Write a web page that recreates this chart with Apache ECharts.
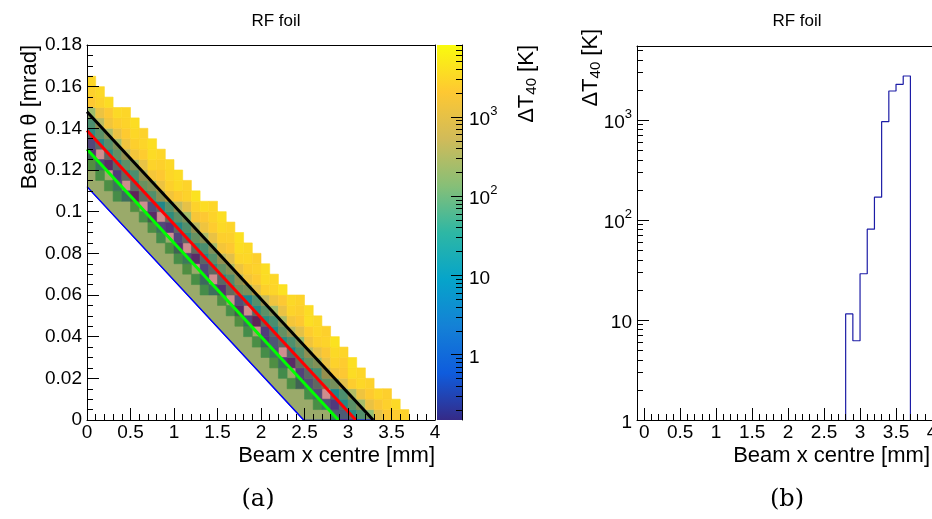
<!DOCTYPE html>
<html><head><meta charset="utf-8">
<script src="https://cdn.jsdelivr.net/npm/echarts@6/dist/echarts.min.js"></script>
<style>html,body{margin:0;padding:0;background:#fff;}#c{width:932px;height:519px;}</style>
</head><body><div id="c"></div>
<script>
// ---------- data ----------
const xBin = 0.1;          // mm per column
const yBin = 0.005;        // mrad per row
// first column index of every theta row (row r covers r*yBin .. (r+1)*yBin)
const rowStart = [27,26,25,23,22,21,20,19,18,17,16,15,13,12,11,10,9,8,7,6,5,3,2,1,0,0,0,0,0,0,0,0,0];
// Delta T40 [K] of each cell of the row, left to right (0 = empty cell)
const rowValues = [
  [0, 11, 6.2, 29, 81, 169, 962, 1950, 2275, 2754],
  [35, 4.1, 0.6, 24, 95, 240, 1100, 1850, 2600, 3300],
  [28, 2.5, 0, 18, 70, 310, 1300, 2200, 2900, 2500],
  [40, 0.4, 3.1, 33, 110, 190, 900, 2400, 3100, 2700],
  [22, 0, 1.2, 26, 60, 420, 1500, 2000, 3500, 3000],
  [45, 0.9, 0.3, 41, 130, 260, 1200, 2700, 2300, 3800],
  [30, 2.2, 0, 19, 88, 350, 1050, 1900, 3300, 2900],
  [38, 0.5, 4.5, 30, 75, 200, 1400, 2500, 2800, 4200],
  [25, 0, 0.8, 22, 120, 380, 950, 2300, 3000, 2600],
  [50, 1.5, 0.2, 36, 65, 280, 1600, 2100, 3700, 3200],
  [33, 0.3, 0, 27, 100, 230, 1150, 2800, 2500, 3500],
  [42, 0, 2.8, 17, 85, 450, 1350, 2000, 3200, 2800],
  [27, 1.1, 0.4, 38, 140, 210, 1000, 2600, 2900, 4000],
  [36, 0.6, 0, 24, 72, 330, 1450, 2200, 3400, 3100],
  [48, 0, 1.8, 31, 115, 270, 1250, 2400, 2700, 3600],
  [31, 2.9, 0.3, 21, 90, 400, 900, 2900, 3100, 2500],
  [44, 0.4, 0, 35, 68, 250, 1550, 2100, 3600, 3300],
  [26, 0, 1.4, 28, 125, 300, 1100, 2500, 2600, 3900],
  [39, 1.7, 0.5, 23, 80, 360, 1300, 2300, 3300, 2900],
  [34, 0.3, 0, 37, 105, 220, 1700, 2000, 2800, 3700],
  [47, 0, 2.4, 20, 92, 410, 1000, 2700, 3500, 3000],
  [29, 0.8, 0.2, 32, 78, 290, 1400, 2200, 2700, 4100],
  [41, 2.0, 0, 26, 135, 240, 1200, 2600, 3300, 2800],
  [37, 0, 0.7, 34, 70, 340, 1600, 2100, 3000, 3500],
  [52, 1.3, 0.3, 22, 98, 260, 1050, 2800, 2600, 3200],
  [0.4, 0, 29, 112, 390, 1500, 2300, 3400, 3000],
  [1.6, 25, 84, 230, 1300, 2500, 2900, 3700],
  [31, 95, 280, 1100, 2200, 3100, 2700],
  [70, 350, 1450, 2400, 2800, 3600],
  [210, 1200, 2000, 3300, 3000],
  [2100, 2700, 3500],
  [2600, 3200],
  [3000]
];
// beam limit lines (x [mm], theta [mrad])
const blackLine = [[0, 0.148], [3.29, 0]];
const redLine   = [[0, 0.139], [3.09, 0]];
const greenLine = [[0, 0.130], [2.89, 0]];
const blueLine  = [[0, 0.112], [2.49, 0]];
// projection (theta = 0 row)
const histEdges  = [2.8, 2.9, 3.0, 3.1, 3.2, 3.3, 3.4, 3.5, 3.6, 3.7];
const histValues = [11.5, 6.2, 29, 81, 169, 962, 1950, 2275, 2754];
// axes
const xTickValues = [0, 0.5, 1, 1.5, 2, 2.5, 3, 3.5, 4];
const xMinorValues = [];
for (let i = 0; i <= 40; i++) if (i % 5) xMinorValues.push(i / 10);
const decades = [0, 1, 2, 3];                 // log10 of 1, 10, 100, 1000
const cbarMin = 0.15, cbarMax = 8090;
const histYMin = 1, histYMax = 5495;
const birdColors = ['#352a87','#0f5cdd','#1481d6','#06a4ca','#2eb7a4','#87bf77','#d1bb59','#fec832','#f9fb0e'];

// ---------- build ----------
const lg = Math.log10;
const cells = [];
rowValues.forEach((vals, r) => vals.forEach((v, k) => {
  if (v > 0) cells.push([(rowStart[r] + k) * xBin, r * yBin, v, lg(v)]);
}));
function minorLog(lo, hi) {
  const out = [];
  for (let d = -1; d <= 4; d++) for (let m = 2; m <= 9; m++) {
    const v = m * Math.pow(10, d);
    if (v > lo && v < hi) out.push(lg(v));
  }
  return out;
}
const histPath = [[histEdges[0], histYMin]];
histValues.forEach((v, i) => { histPath.push([histEdges[i], v]); histPath.push([histEdges[i + 1], v]); });
histPath.push([histEdges[histEdges.length - 1], histYMin]);

const polygons = [
  {line: blackLine, fill: 'rgba(40,40,40,0.30)'},
  {line: redLine,   fill: 'rgba(255,0,0,0.25)'},
  {line: greenLine, fill: 'rgba(0,255,0,0.25)'}
];

const font = 'Liberation Sans, Arial, sans-serif';
const black = '#000';
function powFmt(e) {
  e = Math.round(e);
  if (e === 0) return '{b|1}';
  if (e === 1) return '{b|10}';
  return '{b|10}{s|' + e + '}';
}
const decadeRich = {
  b: {fontSize: 19, fontFamily: font, color: black, verticalAlign: 'bottom', lineHeight: 25},
  s: {fontSize: 13, fontFamily: font, color: black, verticalAlign: 'top', lineHeight: 25}
};
const titleRich = {
  a: {fontSize: 22, fontFamily: font, color: black},
  u: {fontSize: 15, fontFamily: font, color: black, verticalAlign: 'bottom', padding: [9, 0, 0, 0]}
};
const off = () => ({show: false});
const lineOff = () => ({show: false, onZero: false});
const lineBlack = () => ({show: true, onZero: false, lineStyle: {color: black, width: 1}});
const tickStyle = {color: black, width: 1};

// grid geometry
const L = {left: 87, top: 45, width: 348, height: 375, outerBoundsMode: 'none'};
const CB = {left: 437, top: 45, width: 25, height: 375, outerBoundsMode: 'none'};
const R = {left: 637, top: 46, width: 295, height: 374, outerBoundsMode: 'none'};
const g = o => Object.assign({}, o);

function tickAxis(gridIndex, pos, min, max, values, len) {
  return {gridIndex, type: 'value', min, max, position: pos, z: 6,
    axisLine: lineOff(), axisLabel: off(), splitLine: off(),
    axisTick: {show: true, inside: true, length: len, customValues: values, lineStyle: tickStyle}};
}
function hiddenAxis(gridIndex) {
  return {gridIndex, type: 'value', min: 0, max: 1, axisLine: lineOff(), axisTick: off(), axisLabel: off(), splitLine: off()};
}

const option = {
  animation: false,
  backgroundColor: '#fff',
  title: [
    {text: 'RF foil', left: 271, top: 8, textAlign: 'center', textStyle: {fontFamily: font, fontSize: 17, fontWeight: 'normal', color: black}},
    {text: 'RF foil', left: 792, top: 8, textAlign: 'center', textStyle: {fontFamily: font, fontSize: 17, fontWeight: 'normal', color: black}},
    {text: '(a)', left: 253, top: 483, textAlign: 'center', textStyle: {fontFamily: 'DejaVu Serif, Liberation Serif, serif', fontSize: 24, fontWeight: 'normal', color: black}},
    {text: '(b)', left: 782, top: 483, textAlign: 'center', textStyle: {fontFamily: 'DejaVu Serif, Liberation Serif, serif', fontSize: 24, fontWeight: 'normal', color: black}}
  ],
  grid: [g(L), g(L), g(CB), g(CB), g(R), g(R), g(R)],
  visualMap: {
    type: 'continuous', show: false, seriesIndex: 0, dimension: 3,
    min: lg(cbarMin), max: lg(cbarMax), inRange: {color: birdColors}
  },
  xAxis: [
    { // 0 left main
      gridIndex: 0, type: 'value', min: 0, max: 4, interval: 0.5, position: 'bottom', z: 6,
      axisLine: lineBlack(),
      axisTick: {inside: true, length: 12, lineStyle: tickStyle},
      minorTick: {show: true, splitNumber: 5, length: 6, lineStyle: tickStyle},
      axisLabel: {color: black, fontFamily: font, fontSize: 19, margin: 3},
      splitLine: off(),
      name: 'Beam x centre [mm]', nameLocation: 'end', nameGap: 0,
      nameTextStyle: {fontFamily: font, fontSize: 22, color: black, align: 'right', verticalAlign: 'top', padding: [25, 0, 0, 0]}
    },
    {gridIndex: 1, type: 'value', min: 0, max: 4, position: 'top', z: 6, axisLine: lineBlack(), axisTick: off(), axisLabel: off(), splitLine: off()},
    hiddenAxis(2),
    hiddenAxis(3),
    { // 4 right main
      gridIndex: 4, type: 'value', min: -0.1, max: 4.0, position: 'bottom', z: 6,
      axisLine: lineBlack(),
      axisTick: {inside: true, length: 12, customValues: xTickValues, lineStyle: tickStyle},
      axisLabel: {customValues: xTickValues, color: black, fontFamily: font, fontSize: 19, margin: 3},
      splitLine: off(),
      name: 'Beam x centre [mm]', nameLocation: 'end', nameGap: 0,
      nameTextStyle: {fontFamily: font, fontSize: 22, color: black, align: 'right', verticalAlign: 'top', padding: [25, 2, 0, 0]}
    },
    tickAxis(5, 'bottom', -0.1, 4.0, xMinorValues, 6),
    {gridIndex: 6, type: 'value', min: -0.1, max: 4.0, position: 'top', z: 6, axisLine: lineBlack(), axisTick: off(), axisLabel: off(), splitLine: off()}
  ],
  yAxis: [
    { // 0 left main
      gridIndex: 0, type: 'value', min: 0, max: 0.18, interval: 0.02, position: 'left', z: 6,
      axisLine: lineBlack(),
      axisTick: {inside: true, length: 12, lineStyle: tickStyle},
      minorTick: {show: true, splitNumber: 4, length: 6, lineStyle: tickStyle},
      axisLabel: {color: black, fontFamily: font, fontSize: 19, margin: 5},
      splitLine: off(),
      name: 'Beam θ [mrad]', nameLocation: 'end', nameGap: 0, nameRotate: 90,
      nameTextStyle: {fontFamily: font, fontSize: 22, color: black, align: 'right', verticalAlign: 'bottom', padding: [0, 0, 46, 0]}
    },
    {gridIndex: 1, type: 'value', min: 0, max: 0.18, position: 'right', z: 6, axisLine: lineBlack(), axisTick: off(), axisLabel: off(), splitLine: off()},
    { // 2 colorbar axis (log10 space)
      gridIndex: 2, type: 'value', min: lg(cbarMin), max: lg(cbarMax), position: 'right', z: 6,
      axisLine: lineBlack(),
      axisTick: {show: true, inside: true, length: 11, customValues: decades, lineStyle: tickStyle},
      axisLabel: {customValues: decades, formatter: powFmt, rich: decadeRich, margin: 7},
      splitLine: off(),
      name: '{a|ΔT}{u|40}{a| [K]}', nameLocation: 'end', nameGap: 0, nameRotate: 90,
      nameTextStyle: {align: 'right', verticalAlign: 'top', padding: [53, 0, 0, 0], rich: titleRich}
    },
    tickAxis(3, 'right', lg(cbarMin), lg(cbarMax), minorLog(cbarMin, cbarMax), 6),
    { // 4 right main (log)
      gridIndex: 4, type: 'log', logBase: 10, min: histYMin, max: histYMax, position: 'left', z: 6,
      axisLine: lineBlack(),
      axisTick: off(),
      axisLabel: {formatter: v => powFmt(lg(v)), rich: decadeRich, margin: 5, showMinLabel: true, showMaxLabel: false},
      splitLine: off(),
      name: '{a|ΔT}{u|40}{a| [K]}', nameLocation: 'end', nameGap: 0, nameRotate: 90,
      nameTextStyle: {align: 'right', verticalAlign: 'bottom', padding: [0, 0, 34, 0], rich: titleRich}
    },
    tickAxis(5, 'left', lg(histYMin), lg(histYMax), decades, 12),
    tickAxis(6, 'left', lg(histYMin), lg(histYMax), minorLog(histYMin, histYMax), 6)
  ],
  series: [
    {
      name: 'cells', type: 'custom', xAxisIndex: 0, yAxisIndex: 0, z: 1,
      data: cells, encode: {x: 0, y: 1}, clip: true,
      renderItem: function (params, api) {
        const x0 = api.value(0), y0 = api.value(1);
        const p0 = api.coord([x0, y0]);
        const p1 = api.coord([x0 + xBin, y0 + yBin]);
        const c = api.visual('color');
        return {type: 'rect', shape: {x: p0[0], y: p1[1], width: p1[0] - p0[0], height: p0[1] - p1[1]},
          style: {fill: c, stroke: c, lineWidth: 0.6}};
      }
    },
    {
      name: 'bands', type: 'custom', xAxisIndex: 0, yAxisIndex: 0, z: 2, clip: true,
      data: polygons.map((p, i) => [i]), encode: {},
      renderItem: function (params, api) {
        const p = polygons[params.dataIndex];
        const pts = [blueLine[0], blueLine[1], p.line[1], p.line[0]].map(q => api.coord(q));
        return {type: 'polygon', shape: {points: pts}, style: {fill: p.fill, stroke: params.dataIndex === 0 ? '#0000ff' : 'none', lineWidth: 1.2}};
      }
    },
    {type: 'line', xAxisIndex: 0, yAxisIndex: 0, z: 3, data: blueLine, symbol: 'none', lineStyle: {color: '#0000ff', width: 1.2}},
    {type: 'line', xAxisIndex: 0, yAxisIndex: 0, z: 3, data: greenLine, symbol: 'none', lineStyle: {color: '#00ff00', width: 3}},
    {type: 'line', xAxisIndex: 0, yAxisIndex: 0, z: 3, data: redLine, symbol: 'none', lineStyle: {color: '#ff0000', width: 3}},
    {type: 'line', xAxisIndex: 0, yAxisIndex: 0, z: 3, data: blackLine, symbol: 'none', lineStyle: {color: '#000000', width: 3}},
    {type: 'line', xAxisIndex: 4, yAxisIndex: 4, z: 3, data: histPath, symbol: 'none', clip: true,
      lineStyle: {color: '#1c1ca6', width: 1.2}},
    { // colour scale of the palette
      name: 'colorbar', type: 'custom', xAxisIndex: 2, yAxisIndex: 2, z: 1, clip: true,
      data: [[0]], encode: {},
      renderItem: function (params, api) {
        const a = api.coord([0, lg(cbarMin)]), b = api.coord([1, lg(cbarMax)]);
        const stops = birdColors.map((c, i) => ({offset: i / (birdColors.length - 1), color: c}));
        return {type: 'rect', shape: {x: a[0], y: b[1], width: b[0] - a[0], height: a[1] - b[1]},
          style: {fill: new echarts.graphic.LinearGradient(0, 1, 0, 0, stops)}};
      }
    }
  ]
};
const chart = echarts.init(document.getElementById('c'), null, {renderer: 'canvas', width: 932, height: 519});
chart.setOption(option);
</script>
</body></html>
